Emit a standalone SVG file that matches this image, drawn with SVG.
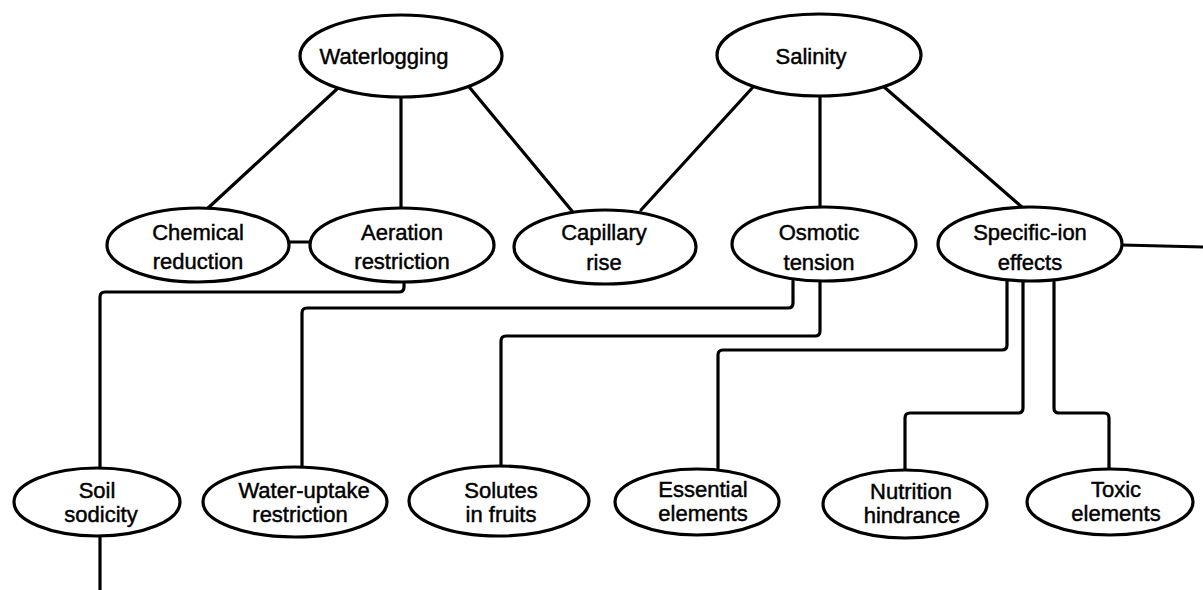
<svg xmlns="http://www.w3.org/2000/svg" width="1203" height="590" viewBox="0 0 1203 590">
<style>
.node ellipse{fill:#fff;stroke:#000;stroke-width:3.2}
.node text{font-family:"Liberation Sans",Arial,sans-serif;font-size:22px;fill:#000;stroke:#000;stroke-width:0.45;text-anchor:middle}
.edges path,.edges line{fill:none;stroke:#000;stroke-width:3.2;stroke-linecap:round;stroke-linejoin:round}
</style>
<rect width="1203" height="590" fill="#fff"/>
<g class="edges" id="connectors">
<line x1="337" y1="89" x2="207" y2="209"/>
<line x1="401" y1="97" x2="401" y2="208"/>
<line x1="470" y1="88" x2="572" y2="211"/>
<line x1="754" y1="86" x2="641" y2="210"/>
<line x1="820" y1="96" x2="820" y2="208"/>
<line x1="883" y1="86" x2="1023" y2="208"/>
<line x1="288" y1="242" x2="311" y2="242"/>
<line x1="1122" y1="245" x2="1203" y2="247"/>
<path d="M404 281 V287 Q404 292 399 292 H105 Q100 292 100 297 V469"/>
<path d="M793 281 V303 Q793 308 788 308 H307 Q302 308 302 313 V467"/>
<path d="M820 282 V331 Q820 336 815 336 H506 Q501 336 501 341 V467"/>
<path d="M1007 281 V345 Q1007 350 1002 350 H723 Q718 350 718 355 V468"/>
<path d="M1023 282 V408 Q1023 413 1018 413 H910 Q905 413 905 418 V469"/>
<path d="M1054 282 V408 Q1054 413 1059 413 H1104 Q1109 413 1109 418 V469"/>
<path d="M100 536 V590"/>
</g>
<g class="node" id="n-waterlogging"><ellipse cx="401" cy="56" rx="101" ry="41"/><text x="384" y="64">Waterlogging</text></g>
<g class="node" id="n-salinity"><ellipse cx="819" cy="55" rx="102" ry="41"/><text x="811" y="64">Salinity</text></g>
<g class="node" id="n-chemical"><ellipse cx="198" cy="245" rx="91" ry="37"/><text x="198" y="240">Chemical</text><text x="198" y="269">reduction</text></g>
<g class="node" id="n-aeration"><ellipse cx="402" cy="245" rx="92" ry="37"/><text x="402" y="240">Aeration</text><text x="402" y="269">restriction</text></g>
<g class="node" id="n-capillary"><ellipse cx="605" cy="247" rx="91" ry="37"/><text x="604" y="240">Capillary</text><text x="604" y="270">rise</text></g>
<g class="node" id="n-osmotic"><ellipse cx="824" cy="244" rx="92" ry="37"/><text x="819" y="240">Osmotic</text><text x="819" y="270">tension</text></g>
<g class="node" id="n-specific"><ellipse cx="1030" cy="244" rx="92" ry="37"/><text x="1030" y="240">Specific-ion</text><text x="1030" y="270">effects</text></g>
<g class="node" id="n-soil"><ellipse cx="97" cy="502" rx="83" ry="34"/><text x="97" y="498">Soil</text><text x="101" y="522">sodicity</text></g>
<g class="node" id="n-water"><ellipse cx="295" cy="502" rx="92" ry="35"/><text x="304" y="498">Water-uptake</text><text x="300" y="522">restriction</text></g>
<g class="node" id="n-solutes"><ellipse cx="499" cy="501" rx="90" ry="35"/><text x="501" y="498">Solutes</text><text x="501" y="522">in fruits</text></g>
<g class="node" id="n-essential"><ellipse cx="697" cy="502" rx="82" ry="33"/><text x="703" y="497">Essential</text><text x="703" y="521">elements</text></g>
<g class="node" id="n-nutrition"><ellipse cx="905" cy="504" rx="82" ry="34"/><text x="911" y="499">Nutrition</text><text x="912" y="523">hindrance</text></g>
<g class="node" id="n-toxic"><ellipse cx="1110" cy="502" rx="83" ry="33"/><text x="1116" y="497">Toxic</text><text x="1116" y="521">elements</text></g>
</svg>
